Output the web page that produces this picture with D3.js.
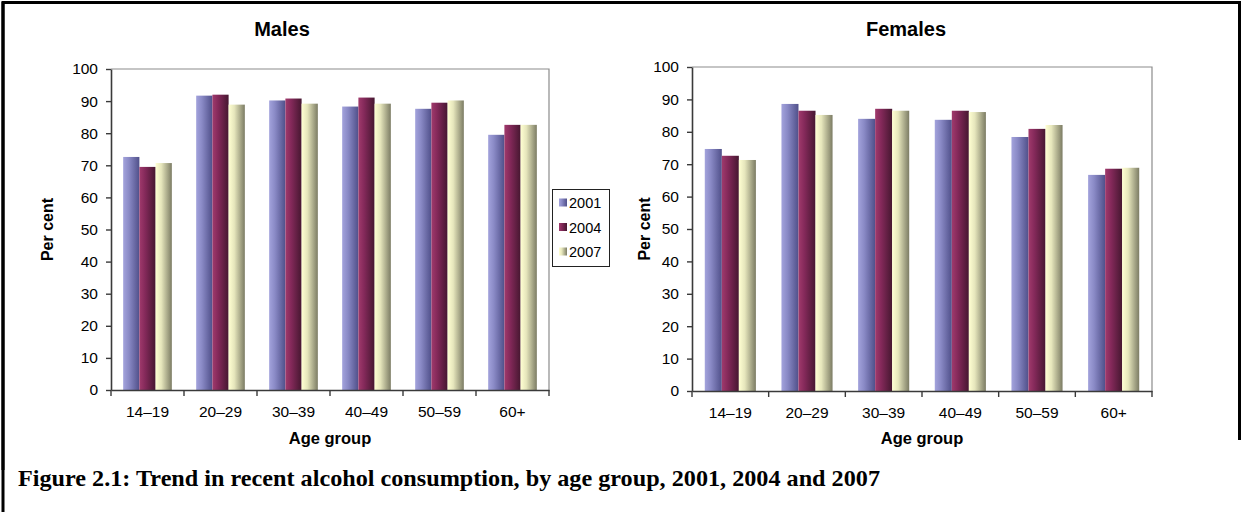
<!DOCTYPE html>
<html>
<head>
<meta charset="utf-8">
<script src="https://cdn.jsdelivr.net/npm/d3@7"></script>
<style>
  html, body { margin: 0; padding: 0; background: #fff; }
  svg { display: block; }
</style>
</head>
<body>
<svg id="chart" width="1242" height="512"></svg>
<script>
// Age groups and survey years
const ageGroups = ["14–19", "20–29", "30–39", "40–49", "50–59", "60+"];
const years = ["2001", "2004", "2007"];

// Recent drinkers, per cent of each age group
const males2001 = [72.6, 91.7, 90.2, 88.3, 87.6, 79.5];
const males2004 = [69.5, 92.0, 90.8, 91.1, 89.5, 82.6];
const males2007 = [70.7, 88.9, 89.2, 89.2, 90.2, 82.6];

const females2001 = [74.7, 88.6, 84.0, 83.7, 78.4, 66.7];
const females2004 = [72.6, 86.5, 87.1, 86.5, 80.9, 68.6];
const females2007 = [71.3, 85.2, 86.5, 86.1, 82.1, 68.9];

const yTicks = [0, 10, 20, 30, 40, 50, 60, 70, 80, 90, 100];

const svg = d3.select("#chart");
const sans = "'Liberation Sans', Arial, Helvetica, sans-serif";

// Gradient fills: light on the left edge of each bar, shaded towards the right
const shades = {
  "2001": ["#a3a3dc", "#8a8ac6", "#50508a"],
  "2004": ["#a03a6c", "#84295a", "#461730"],
  "2007": ["#ffffd2", "#e6e6bc", "#7c7c64"]
};
const defs = svg.append("defs");
years.forEach(yr => {
  const g = defs.append("linearGradient")
    .attr("id", "grad" + yr)
    .attr("x1", "0").attr("x2", "1").attr("y1", "0").attr("y2", "0");
  g.append("stop").attr("offset", "0").attr("stop-color", shades[yr][0]);
  g.append("stop").attr("offset", "0.35").attr("stop-color", shades[yr][1]);
  g.append("stop").attr("offset", "1").attr("stop-color", shades[yr][2]);
});

// Outer frame
svg.append("path")
  .attr("d", "M3,470 V2.5 H1239.5 V440")
  .attr("fill", "none")
  .attr("stroke", "#000")
  .attr("stroke-width", 3);
svg.append("line")
  .attr("x1", 3).attr("x2", 3).attr("y1", 2).attr("y2", 512)
  .attr("stroke", "#000").attr("stroke-width", 3);

function drawPanel(opts) {
  const { title, titleX, left, right, top, bottom, labelX, series } = opts;
  const g = svg.append("g");

  const x0 = d3.scaleBand().domain(ageGroups).range([left, right]).padding(0);
  const bw = x0.bandwidth();
  const x1 = d3.scaleBand().domain(years).range([bw / 6, bw * 5 / 6]).padding(0);
  const y = d3.scaleLinear().domain([0, 100]).range([bottom, top]);

  // Plot-area outline (top and right edges)
  g.append("path")
    .attr("d", `M${left},${top} H${right} V${bottom}`)
    .attr("fill", "none")
    .attr("stroke", "#8c8c8c")
    .attr("stroke-width", 1.2);

  // Bars
  const rows = ageGroups.map((a, i) => ({
    age: a,
    vals: years.map((yr, k) => ({ year: yr, value: series[k][i] }))
  }));
  g.selectAll("g.grp").data(rows).join("g")
    .attr("class", "grp")
    .attr("transform", d => `translate(${x0(d.age)},0)`)
    .selectAll("rect").data(d => d.vals).join("rect")
    .attr("x", d => x1(d.year))
    .attr("width", x1.bandwidth())
    .attr("y", d => y(d.value))
    .attr("height", d => y(0) - y(d.value))
    .attr("fill", d => `url(#grad${d.year})`);

  // Value axis
  const ya = g.append("g")
    .attr("transform", `translate(${left},0)`)
    .call(d3.axisLeft(y).tickValues(yTicks).tickSize(5).tickPadding(8).tickSizeOuter(0));
  ya.select(".domain").attr("stroke", "#3a3a3a").attr("stroke-width", 1.6);
  ya.selectAll(".tick line").attr("stroke", "#3a3a3a").attr("stroke-width", 1.4);
  ya.selectAll(".tick text")
    .attr("font-family", sans).attr("font-size", 15.5).attr("fill", "#000");

  // Category axis: labels centred in each band, ticks on band edges
  const xa = g.append("g")
    .attr("transform", `translate(0,${bottom})`)
    .call(d3.axisBottom(x0).tickSize(0).tickPadding(16).tickSizeOuter(0));
  xa.select(".domain").attr("stroke", "#3a3a3a").attr("stroke-width", 1.6);
  xa.selectAll(".tick text")
    .attr("font-family", sans).attr("font-size", 15.5).attr("fill", "#000");
  const edges = ageGroups.map(a => x0(a)).concat([right]);
  xa.selectAll("line.edge").data(edges).join("line")
    .attr("class", "edge")
    .attr("x1", d => d).attr("x2", d => d)
    .attr("y1", 0).attr("y2", 6)
    .attr("stroke", "#3a3a3a").attr("stroke-width", 1.4);

  // Titles
  g.append("text")
    .attr("x", titleX).attr("y", 36)
    .attr("text-anchor", "middle")
    .attr("font-family", sans).attr("font-weight", "bold").attr("font-size", 20)
    .text(title);
  g.append("text")
    .attr("x", (left + right) / 2).attr("y", 444)
    .attr("text-anchor", "middle")
    .attr("font-family", sans).attr("font-weight", "bold").attr("font-size", 16.5)
    .text("Age group");
  g.append("text")
    .attr("transform", `translate(${labelX},${(top + bottom) / 2}) rotate(-90)`)
    .attr("text-anchor", "middle")
    .attr("font-family", sans).attr("font-weight", "bold").attr("font-size", 16)
    .text("Per cent");
}

drawPanel({
  title: "Males", titleX: 282,
  left: 111, right: 549, top: 69, bottom: 390, labelX: 53,
  series: [males2001, males2004, males2007]
});

drawPanel({
  title: "Females", titleX: 906,
  left: 692, right: 1152, top: 67, bottom: 391, labelX: 650,
  series: [females2001, females2004, females2007]
});

// Legend
const lg = svg.append("g").attr("transform", "translate(552,189)");
lg.append("rect")
  .attr("x", 0.5).attr("y", 0.5).attr("width", 57).attr("height", 77)
  .attr("fill", "#fff").attr("stroke", "#222").attr("stroke-width", 1);
const items = lg.selectAll("g.item").data(years).join("g")
  .attr("class", "item")
  .attr("transform", (d, i) => `translate(7,${13.5 + i * 24.5})`);
items.append("rect")
  .attr("x", 0).attr("y", -4).attr("width", 8).attr("height", 8)
  .attr("fill", d => `url(#grad${d})`);
items.append("text")
  .attr("x", 10).attr("y", 5.5)
  .attr("font-family", sans).attr("font-size", 14.5)
  .text(d => d);

// Caption
svg.append("text")
  .attr("x", 18).attr("y", 486)
  .attr("font-family", "'Liberation Serif', 'Times New Roman', serif")
  .attr("font-weight", "bold").attr("font-size", 24)
  .attr("textLength", 862).attr("lengthAdjust", "spacingAndGlyphs")
  .text("Figure 2.1: Trend in recent alcohol consumption, by age group, 2001, 2004 and 2007");
</script>
</body>
</html>
